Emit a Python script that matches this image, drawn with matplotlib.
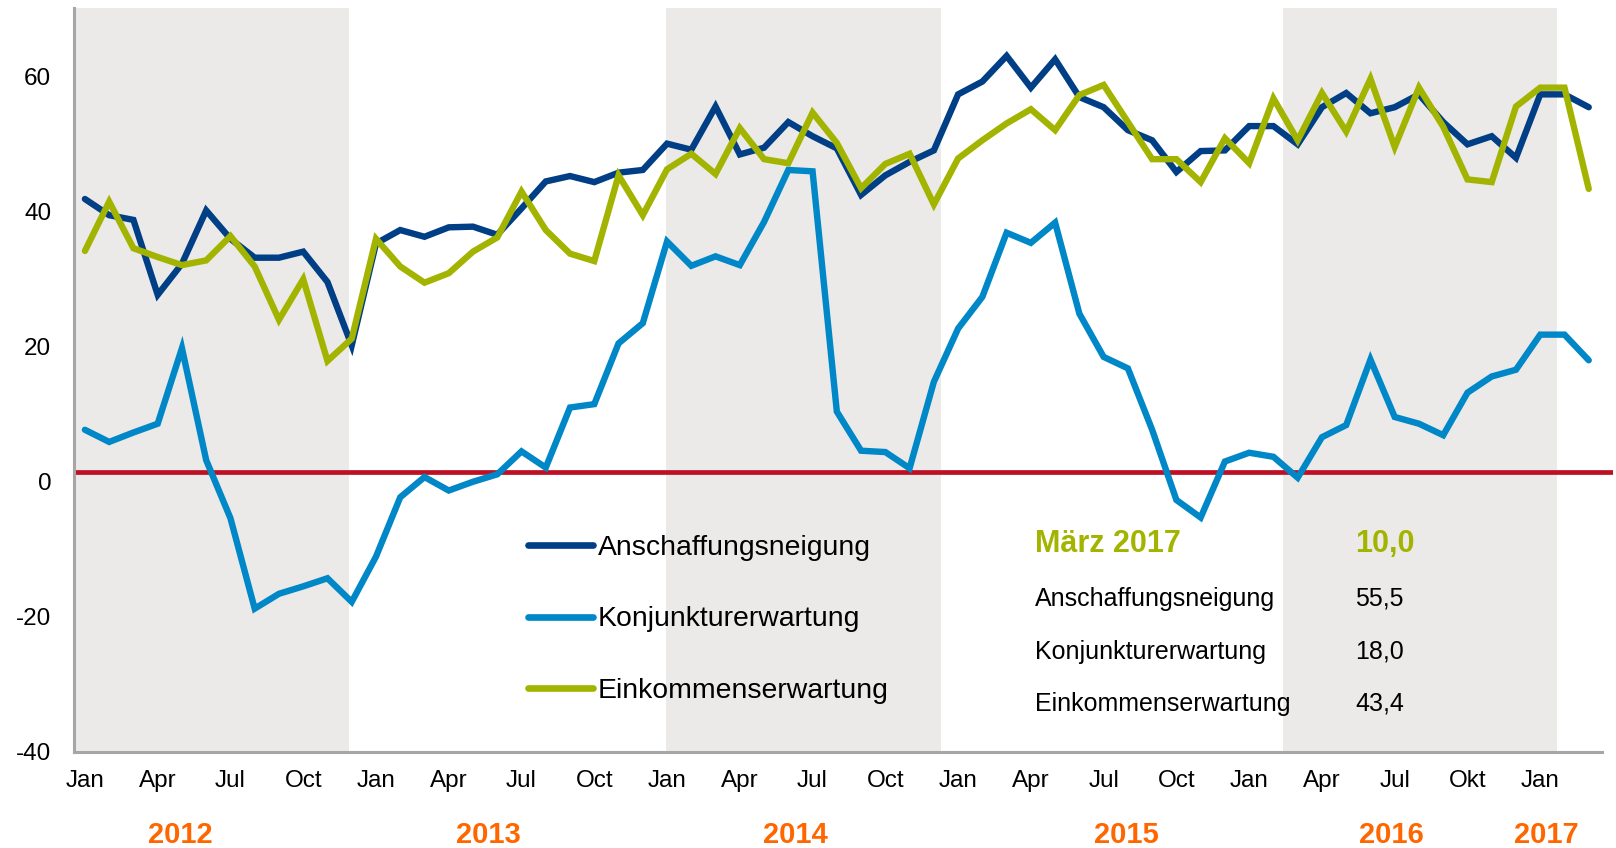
import numpy as np
import matplotlib
matplotlib.use("Agg")
from matplotlib import pyplot as plt
from matplotlib.lines import Line2D

plt.rcParams['font.family'] = ['Liberation Sans', 'DejaVu Sans']
plt.rcParams['axes.unicode_minus'] = False

# monthly values Jan 2012 .. Mar 2017
anschaffung = [41.9, 39.5, 38.8, 27.7, 32.3, 40.2, 36.0, 33.2, 33.2, 34.1, 29.6, 20.2,
               35.3, 37.3, 36.3, 37.7, 37.8, 36.6, 40.5, 44.5, 45.3, 44.4, 45.8, 46.2,
               50.1, 49.2, 55.6, 48.5, 49.5, 53.3, 51.2, 49.4, 42.5, 45.4, 47.4, 49.1,
               57.4, 59.3, 63.1, 58.4, 62.6, 57.0, 55.5, 52.1, 50.6, 45.9, 49.0, 49.1,
               52.7, 52.7, 50.0, 55.5, 57.6, 54.6, 55.5, 57.4, 53.3, 50.0, 51.2, 48.0,
               57.4, 57.4, 55.5]
konjunktur = [7.7, 5.9, 7.3, 8.6, 19.8, 3.2, -5.4, -18.8, -16.6, -15.5, -14.3, -17.8,
              -11.1, -2.3, 0.7, -1.3, 0.0, 1.1, 4.5, 2.1, 11.0, 11.5, 20.5, 23.5,
              35.6, 32.0, 33.4, 32.1, 38.5, 46.2, 46.0, 10.4, 4.6, 4.4, 2.0, 14.8,
              22.7, 27.4, 36.9, 35.4, 38.4, 24.9, 18.5, 16.8, 7.7, -2.7, -5.3, 3.0,
              4.3, 3.7, 0.6, 6.6, 8.4, 18.1, 9.6, 8.6, 6.9, 13.2, 15.6, 16.6,
              21.8, 21.8, 18.0]
einkommen = [34.2, 41.5, 34.6, 33.3, 32.1, 32.8, 36.4, 31.9, 24.0, 30.0, 17.9, 21.2,
             36.0, 31.9, 29.5, 30.9, 34.1, 36.2, 43.0, 37.3, 33.8, 32.7, 45.4, 39.5,
             46.3, 48.6, 45.6, 52.4, 47.8, 47.2, 54.7, 50.2, 43.5, 47.1, 48.6, 41.1,
             47.9, 50.6, 53.1, 55.2, 52.1, 57.3, 58.8, 53.3, 47.8, 47.8, 44.4, 50.9,
             47.2, 56.8, 50.6, 57.6, 51.9, 59.7, 49.6, 58.4, 52.6, 44.8, 44.4, 55.6,
             58.4, 58.4, 43.4]

series_names = ['Anschaffungsneigung', 'Konjunkturerwartung', 'Einkommenserwartung']
series_colors = ['#003E85', '#0087C7', '#A3B400']

month_labels = ['Jan', 'Apr', 'Jul', 'Oct'] * 4 + ['Jan', 'Apr', 'Jul', 'Okt', 'Jan']
years = ['2012', '2013', '2014', '2015', '2016', '2017']
year_pos = [3.93, 16.64, 29.3, 42.95, 53.87, 60.24]
shade_spans = [(-0.45, 10.87), (23.96, 35.29), (49.39, 60.71)]
ref_level = 1.4

table_title = 'März 2017'
table_index = '10,0'
table_values = ['55,5', '18,0', '43,4']

W, H = 1616, 848
fig = plt.figure(figsize=(W / 100, H / 100), dpi=100)

def fx(px):
    return px / W

def fy(py):
    return 1 - py / H

ax = fig.add_axes([fx(74), fy(751.7), fx(1613) - fx(74), fy(8) - fy(751.7)])

x = np.arange(len(anschaffung))
for a, b in shade_spans:
    ax.axvspan(a, b, color='#EBEAE8', lw=0, zorder=0)

ax.axhline(ref_level, color='#BD1025', lw=3.4, zorder=2)

for vals, c in zip([anschaffung, konjunktur, einkommen], series_colors):
    ax.plot(x, vals, color=c, lw=4.6, solid_capstyle='round', solid_joinstyle='miter', zorder=3)

ax.set_xlim(-0.45, 63.0)
ax.set_ylim(-40, 70.2)
ax.set_yticks([-40, -20, 0, 20, 40, 60])
ax.set_xticks(np.arange(0, 63, 3))
ax.set_xticklabels(month_labels)
ax.tick_params(axis='both', length=0, labelsize=17.5, colors='black')
ax.tick_params(axis='y', pad=16.3)
ax.tick_params(axis='x', pad=13.5)

for s in ['top', 'right']:
    ax.spines[s].set_visible(False)
for s in ['left', 'bottom']:
    ax.spines[s].set_color('#A6A6A6')
    ax.spines[s].set_linewidth(2.2)
ax.spines['bottom'].set_bounds(-0.45, 62.53)

# year labels under month ticks
trans = ax.get_xaxis_transform()
for yp, yr in zip(year_pos, years):
    ax.text(yp, -0.1228, yr, transform=trans, ha='center', va='baseline',
            fontsize=21, fontweight='bold', color='#FF6600', clip_on=False)

# legend
for i, (name, c) in enumerate(zip(series_names, series_colors)):
    yl = 545 + i * 71.5
    fig.add_artist(Line2D([fx(528), fx(593)], [fy(yl), fy(yl)], color=c, lw=4.8,
                          solid_capstyle='round', transform=fig.transFigure))
    fig.text(fx(598), fy(yl + 10), name, fontsize=20.4, va='baseline', ha='left')

# info table
fig.text(fx(1035), fy(552), table_title, fontsize=22, fontweight='bold', color='#A3B400', va='baseline')
fig.text(fx(1355), fy(552), table_index, fontsize=22, fontweight='bold', color='#A3B400', va='baseline')
for i, (name, v) in enumerate(zip(series_names, table_values)):
    yb = [605.7, 659, 710.7][i]
    fig.text(fx(1035), fy(yb), name, fontsize=18, va='baseline')
    fig.text(fx(1355), fy(yb), v, fontsize=18, va='baseline')

fig.savefig('out.png', dpi=100)
